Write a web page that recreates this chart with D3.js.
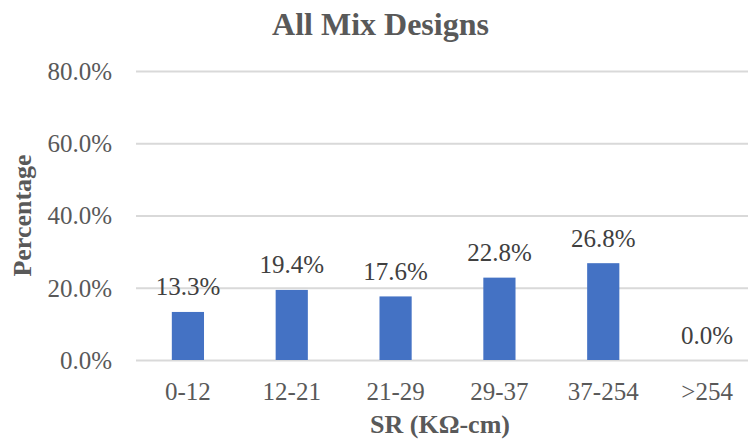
<!DOCTYPE html>
<html>
<head>
<meta charset="utf-8">
<script src="https://cdn.jsdelivr.net/npm/d3@7"></script>
<style>
  html, body { margin: 0; padding: 0; background: #fff; }
  svg { display: block; }
</style>
</head>
<body>
<svg id="chart" width="748" height="442"></svg>
<script>
// Share of specimens per surface-resistivity band
const categories = ["0-12", "12-21", "21-29", "29-37", "37-254", ">254"];
const percentages = [13.3, 19.4, 17.6, 22.8, 26.8, 0.0];
const yTicks = [0, 20, 40, 60, 80];

const W = 748, H = 442;
const margin = { left: 136, right: -11, top: 71, bottom: 82 };
const serif = "'Liberation Serif', 'Times New Roman', serif";
const textColor = "#595959";

const svg = d3.select("#chart");

const x = d3.scaleBand()
  .domain(categories)
  .range([margin.left, W - margin.right])
  .paddingInner(0.69)
  .paddingOuter(0.345);

const y = d3.scaleLinear()
  .domain([0, 80])
  .range([H - margin.bottom, margin.top]);

// horizontal gridlines
const yAxis = d3.axisLeft(y)
  .tickValues(yTicks)
  .tickSize(-(W - margin.right - margin.left))
  .tickPadding(24)
  .tickFormat(d => d3.format(".1f")(d) + "%");

const gy = svg.append("g")
  .attr("transform", `translate(${margin.left},0)`)
  .call(yAxis);
gy.select(".domain").remove();
gy.selectAll(".tick line").attr("stroke", "#d9d9d9").attr("stroke-width", 2);
gy.selectAll(".tick text")
  .attr("font-family", serif)
  .attr("font-size", 25)
  .attr("fill", textColor)
  .attr("dy", "0.33em");

// category axis labels
const xAxis = d3.axisBottom(x).tickSize(0).tickPadding(22);
const gx = svg.append("g")
  .attr("transform", `translate(0,${y(0)})`)
  .call(xAxis);
gx.select(".domain").remove();
gx.selectAll(".tick text")
  .attr("font-family", serif)
  .attr("font-size", 25)
  .attr("fill", textColor);

// bars
svg.append("g").selectAll("rect")
  .data(percentages)
  .join("rect")
  .attr("x", (d, i) => x(categories[i]))
  .attr("width", x.bandwidth())
  .attr("y", d => y(d))
  .attr("height", d => y(0) - y(d))
  .attr("fill", "#4472C4");

// value labels
svg.append("g").selectAll("text")
  .data(percentages)
  .join("text")
  .attr("x", (d, i) => x(categories[i]) + x.bandwidth() / 2)
  .attr("y", d => y(d) - 16.5)
  .attr("text-anchor", "middle")
  .attr("font-family", serif)
  .attr("font-size", 25)
  .attr("fill", "#404040")
  .text(d => d3.format(".1f")(d) + "%");

// chart title
svg.append("text")
  .attr("x", 380.5)
  .attr("y", 34.5)
  .attr("text-anchor", "middle")
  .attr("font-family", serif)
  .attr("font-weight", "bold")
  .attr("font-size", 32)
  .attr("fill", textColor)
  .text("All Mix Designs");

// axis titles
svg.append("text")
  .attr("x", 440)
  .attr("y", 433)
  .attr("text-anchor", "middle")
  .attr("font-family", serif)
  .attr("font-weight", "bold")
  .attr("font-size", 26)
  .attr("fill", textColor)
  .text("SR (KΩ-cm)");

svg.append("text")
  .attr("transform", `translate(31,${(y(0) + y(80)) / 2}) rotate(-90)`)
  .attr("text-anchor", "middle")
  .attr("font-family", serif)
  .attr("font-weight", "bold")
  .attr("font-size", 26)
  .attr("fill", textColor)
  .text("Percentage");
</script>
</body>
</html>
